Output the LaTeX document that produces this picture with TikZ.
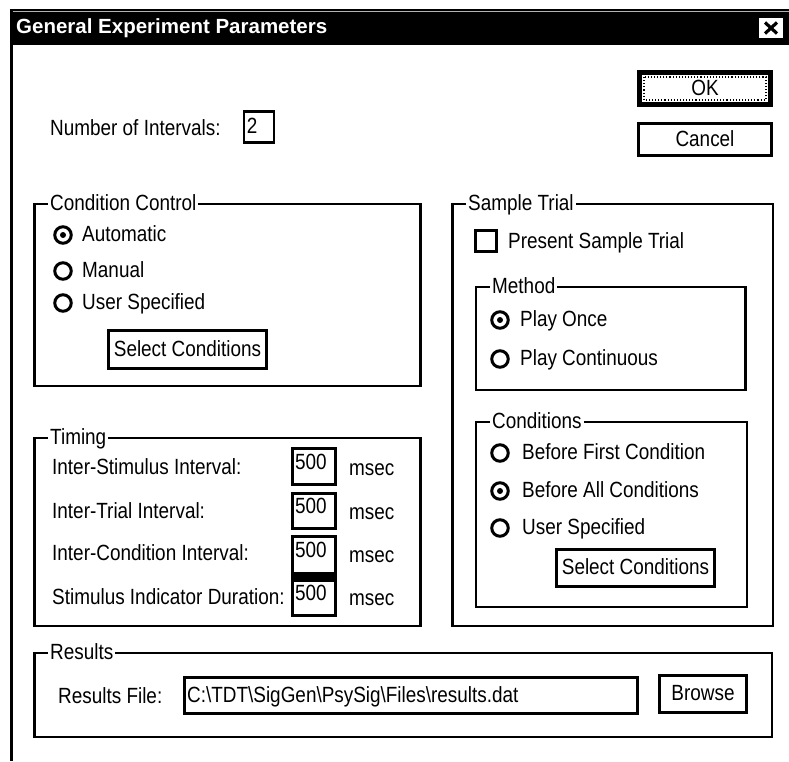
\documentclass[tikz,border=0pt]{standalone}
\usepackage{fontspec}
\usetikzlibrary{calc}
\setmainfont{Liberation Sans}[FakeStretch=0.86]
\newfontfamily\titlefont{Liberation Sans}
\newcommand{\uifont}{\fontsize{22}{26}\selectfont}
\begin{document}
\begin{tikzpicture}[x=1pt,y=-1pt,line join=miter,
  ui/.style={font=\uifont, inner sep=0pt, text height=16pt, text depth=3pt},
  lbl/.style={ui, anchor=west},
  grp/.style={draw, line width=2.6pt},
  grptitle/.style={lbl, fill=white, inner xsep=2pt},
  btn/.style={draw, line width=3pt, ui, align=center},
  field/.style={draw, line width=2.6pt, inner sep=0pt},
  radio/.style={circle, draw, line width=3pt, minimum size=16.5pt, inner sep=0pt},
  radioon/.style={radio, path picture={\fill (path picture bounding box.center) circle (3pt);}},
]
% page
\fill[white] (0,0) rectangle (789,761);
\useasboundingbox (0,0) rectangle (789,761);

% window frame and caption bar
\draw[line width=3pt] (11,9) -- (11,761);
\fill (9.5,9) rectangle (789,45);
\draw[gray!60, line width=0.8pt] (12.5,11.5) -- (789,11.5);
\node[anchor=west, inner sep=0pt, text=white, font=\titlefont\bfseries\fontsize{20.5}{24}\selectfont] (title) at (16,28.5) {General Experiment Parameters};
\node[fill=white, minimum width=24pt, minimum height=20pt, inner sep=0pt] (close) at (771,28) {};
\draw[line width=3.2pt] ($(close.center)+(-6,-5.5)$) -- ($(close.center)+(6,5.5)$);
\draw[line width=3.2pt] ($(close.center)+(-6,5.5)$) -- ($(close.center)+(6,-5.5)$);

% OK / Cancel
\node[btn, line width=5pt, minimum width=131pt, minimum height=32pt] (ok) at (705,88.5) {OK};
\draw[dotted, line width=1.1pt] ($(ok.north west)+(7,7)$) rectangle ($(ok.south east)+(-7,-7)$);
\node[btn, minimum width=133pt, minimum height=32pt] (cancel) at (705,139.5) {Cancel};

% number of intervals
\node[lbl] (nint) at (50,129) {Number of Intervals:};
\node[field, minimum width=30pt, minimum height=31pt] (nbox) at (259,127) {};
\node[lbl] (nval) at ($(nbox.west)+(4,0)$) {2};

% Condition Control group
\draw[grp] (34.5,204) rectangle (420.5,386);
\node[grptitle] (cctitle) at (48,204) {Condition Control};
\node[radioon] (ccauto) at (63,235) {};
\node[lbl] (ccautol) at (82,235) {Automatic};
\node[radio] (ccman) at (63,271) {};
\node[lbl] (ccmanl) at (82,271) {Manual};
\node[radio] (ccuser) at (63,303) {};
\node[lbl] (ccuserl) at (82,303) {User Specified};
\node[btn, minimum width=158pt, minimum height=38pt] (ccsel) at (187.5,349.5) {Select Conditions};

% Timing group
\draw[grp] (34.5,438) rectangle (420.5,626);
\node[grptitle] (tmtitle) at (48,438) {Timing};
\node[lbl] (isi) at (52,468) {Inter-Stimulus Interval:};
\node[lbl] (iti) at (52,512) {Inter-Trial Interval:};
\node[lbl] (ici) at (52,554) {Inter-Condition Interval:};
\node[lbl] (sid) at (52,598) {Stimulus Indicator Duration:};
\fill (291,572) rectangle (337,580);
\node[field, line width=3pt, minimum width=43pt, minimum height=36pt] (isibox) at (314,466.5) {};
\node[field, line width=3pt, minimum width=43pt, minimum height=35pt] (itibox) at (314,511) {};
\node[field, line width=3pt, minimum width=43pt, minimum height=37pt] (icibox) at (314,555) {};
\node[field, line width=3pt, minimum width=43pt, minimum height=35pt] (sidbox) at (314,598) {};
\node[lbl] (isiv) at (295,463) {500};
\node[lbl] (itiv) at (295,507) {500};
\node[lbl] (iciv) at (295,551) {500};
\node[lbl] (sidv) at (295,594) {500};
\node[lbl] (isiu) at (349,469) {msec};
\node[lbl] (itiu) at (349,513) {msec};
\node[lbl] (iciu) at (349,556) {msec};
\node[lbl] (sidu) at (349,599) {msec};

% Sample Trial group
\draw[grp] (452.5,204) rectangle (773,626);
\node[grptitle] (sttitle) at (466,204) {Sample Trial};
\node[draw, line width=3pt, minimum size=21pt, inner sep=0pt] (stchk) at (486,241) {};
\node[lbl] (stchkl) at (508,242) {Present Sample Trial};

\draw[grp] (476,287) rectangle (745.5,390);
\node[grptitle] (mttitle) at (490,287) {Method};
\node[radioon] (mtonce) at (500,320) {};
\node[lbl] (mtoncel) at (520,320) {Play Once};
\node[radio] (mtcont) at (500,359) {};
\node[lbl] (mtcontl) at (520,359) {Play Continuous};

\draw[grp] (476,422) rectangle (747,607);
\node[grptitle] (cdtitle) at (490,422) {Conditions};
\node[radio] (cdfirst) at (500,453) {};
\node[lbl] (cdfirstl) at (522,453) {Before First Condition};
\node[radioon] (cdall) at (500,491) {};
\node[lbl] (cdalll) at (522,491) {Before All Conditions};
\node[radio] (cduser) at (500,528) {};
\node[lbl] (cduserl) at (522,528) {User Specified};
\node[btn, minimum width=158pt, minimum height=37pt] (cdsel) at (635.5,568) {Select Conditions};

% Results group
\draw[grp] (34.5,653) rectangle (772,737);
\node[grptitle] (rstitle) at (48,653) {Results};
\node[lbl] (rsfile) at (58,697) {Results File:};
\node[field, line width=3pt, minimum width=453pt, minimum height=36pt] (rsbox) at (411,695.5) {};
\node[lbl] (rspath) at (187,696) {C:\textbackslash TDT\textbackslash SigGen\textbackslash PsySig\textbackslash Files\textbackslash results.dat};
\node[btn, minimum width=87pt, minimum height=37pt] (rsbrowse) at (703,694) {Browse};
\end{tikzpicture}
\end{document}
